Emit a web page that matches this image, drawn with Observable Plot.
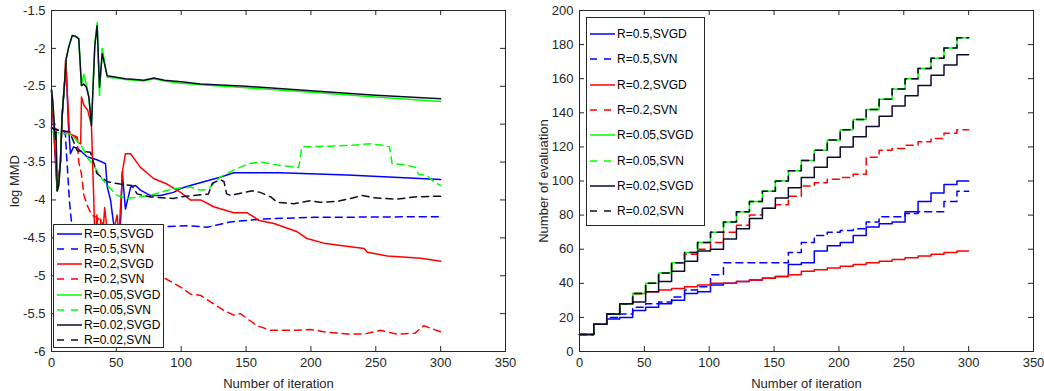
<!DOCTYPE html>
<html><head><meta charset="utf-8">
<script src="https://cdn.jsdelivr.net/npm/d3@7"></script>
<script src="https://cdn.jsdelivr.net/npm/@observablehq/plot@0.6"></script>
<style>
body{margin:0;background:#fff;font-family:"Liberation Sans",Arial,sans-serif;}
#wrap{position:relative;width:1044px;height:391px;overflow:hidden;background:#fff;}
.panel{position:absolute;top:0;}
.legend{position:absolute;background:#fff;border:1px solid #262626;box-sizing:border-box;font-size:12px;color:#000;}
.legend .row{position:absolute;left:0;height:14px;line-height:14px;white-space:nowrap;}
.legend .row svg{position:absolute;top:0;}
.legend .row span{position:absolute;top:0;}
</style></head>
<body><div id="wrap"></div>
<script>
// ---------- shared ----------
const seriesLabels = ["R=0.5,SVGD","R=0.5,SVN","R=0.2,SVGD","R=0.2,SVN","R=0.05,SVGD","R=0.05,SVN","R=0.02,SVGD","R=0.02,SVN"];
const iterTicks = [0,50,100,150,200,250,300,350];
const mmdTicks = [-6,-5.5,-5,-4.5,-4,-3.5,-3,-2.5,-2,-1.5];
const evalTicks = [0,20,40,60,80,100,120,140,160,180,200];

// ---------- left panel: log MMD, [iteration, value] ----------
const mmdR05SVGD = [[0,-2.55],[4.4,-3.88],[6.9,-3.5],[8.2,-2.89],[10.3,-2.4],[11.3,-2.2],[13,-3.0],[14.6,-3.39],[17,-3.3],[19.8,-3.32],[23,-3.36],[27.4,-3.43],[35,-3.47],[41.6,-3.52],[43,-3.83],[45.5,-4.0],[47.5,-4.27],[50,-4.5],[52,-4.6],[53.5,-4.2],[54.5,-3.63],[57,-4.12],[61,-3.83],[64.8,-3.81],[68.6,-3.87],[76,-3.94],[84,-3.94],[94,-3.9],[99.5,-3.85],[107,-3.81],[130,-3.7],[140.5,-3.64],[176,-3.64],[228,-3.67],[300,-3.73]];
const mmdR05SVN = [[0,-3.05],[10,-3.1],[10.8,-3.15],[11.6,-3.4],[13.9,-4.03],[15.4,-4.29],[18,-4.5],[30,-4.55],[50,-4.5],[65,-4.4],[79,-4.36],[104.5,-4.34],[120,-4.36],[138,-4.29],[163.7,-4.25],[202,-4.23],[300,-4.22]];
const mmdR02SVGD = [[0,-2.55],[4.4,-3.88],[6.9,-3.5],[8.2,-2.89],[10.3,-2.4],[10.8,-2.16],[13.9,-3.13],[17,-3.15],[19.8,-3.17],[20.5,-3.24],[22.5,-3.26],[23.1,-2.64],[25,-2.75],[28,-2.82],[30.8,-3.02],[31.5,-3.4],[32.6,-4.0],[33.5,-4.6],[35,-4.2],[36.5,-4.6],[38,-4.25],[39,-4.6],[41,-4.1],[44,-4.6],[48,-4.4],[50.6,-4.2],[52,-4.5],[53,-4.15],[55,-3.59],[57,-3.39],[61,-3.39],[68.6,-3.57],[79,-3.72],[89,-3.79],[99.5,-3.9],[107,-4.0],[115,-4.0],[125,-4.09],[140.5,-4.17],[151,-4.17],[160,-4.27],[171.5,-4.31],[189.5,-4.42],[197,-4.51],[210,-4.57],[223,-4.6],[241,-4.64],[243.5,-4.69],[259,-4.74],[285,-4.77],[300,-4.81]];
const mmdR02SVN = [[0,-3.05],[11.6,-3.1],[17,-3.15],[19.8,-3.2],[21,-3.5],[23,-3.65],[25,-3.94],[27.5,-4.07],[31,-4.2],[35,-4.23],[45,-4.4],[60,-4.65],[75,-4.85],[88,-5.04],[99.5,-5.15],[107,-5.24],[115,-5.26],[133,-5.46],[140.5,-5.52],[145.7,-5.5],[151,-5.57],[158.6,-5.66],[169,-5.72],[189.5,-5.72],[199.7,-5.71],[210,-5.74],[228,-5.77],[241,-5.77],[253.6,-5.72],[266,-5.77],[280,-5.76],[287,-5.66],[300,-5.74]];
const mmdR005SVGD = [[0,-2.55],[1,-2.7],[2.5,-3.1],[3,-3.2],[3.5,-3.1],[4.4,-3.88],[5.6,-3.81],[6.9,-3.5],[8.2,-2.89],[10.3,-2.4],[11.3,-2.14],[13.3,-1.98],[16,-1.83],[18.5,-1.84],[21,-1.87],[23.1,-2.49],[24.9,-2.34],[26.8,-2.47],[28.8,-2.64],[30.8,-3.0],[33.4,-1.94],[35.2,-1.66],[37,-2.62],[39.1,-2.0],[42.9,-2.38],[50,-2.39],[57,-2.41],[65,-2.42],[71,-2.43],[79,-2.4],[87,-2.43],[100,-2.46],[115,-2.48],[150,-2.52],[200,-2.58],[250,-2.64],[300,-2.7]];
const mmdR005SVN = [[0,-3.1],[8,-3.12],[14.6,-3.13],[22.3,-3.26],[28,-3.45],[32.6,-3.55],[39,-3.72],[43,-3.81],[50.6,-3.94],[58.4,-3.98],[76,-3.94],[94,-3.85],[107,-3.83],[115,-3.87],[121,-3.86],[125,-3.78],[130,-3.7],[140,-3.61],[152,-3.52],[161,-3.5],[174,-3.54],[190.6,-3.57],[193,-3.3],[215,-3.29],[230,-3.28],[246,-3.26],[256,-3.28],[260.6,-3.3],[262.6,-3.52],[274,-3.54],[280.6,-3.57],[283,-3.66],[289.6,-3.68],[294.8,-3.76],[300,-3.81]];
const mmdR002SVGD = [[0,-2.55],[1,-2.7],[2.5,-3.1],[3,-3.2],[3.5,-3.1],[4.4,-3.88],[5.6,-3.81],[6.9,-3.5],[8.2,-2.89],[10.3,-2.4],[11.3,-2.14],[13.3,-1.98],[16,-1.83],[18.5,-1.84],[21,-1.87],[23.1,-2.49],[24.9,-2.47],[26.8,-2.51],[28.8,-2.64],[30.8,-3.02],[33.4,-1.96],[35.2,-1.7],[37,-2.51],[39.1,-2.07],[42.9,-2.36],[50,-2.38],[57,-2.4],[65,-2.41],[71,-2.42],[79,-2.39],[87,-2.42],[100,-2.44],[115,-2.47],[150,-2.5],[200,-2.56],[250,-2.62],[300,-2.665]];
const mmdR002SVN = [[0,-3.05],[5,-3.08],[14,-3.1],[19.8,-3.35],[30,-3.37],[35,-3.65],[43,-3.76],[53,-3.79],[62,-3.81],[66,-3.92],[76,-3.96],[94,-3.98],[99.5,-3.96],[121,-3.92],[124,-3.78],[130,-3.73],[133,-3.76],[135,-3.92],[138,-3.94],[154.7,-3.88],[161,-3.9],[169,-3.96],[174,-4.03],[186.6,-4.05],[199.7,-4.01],[207,-4.03],[220,-4.02],[230.5,-3.98],[239.5,-3.94],[248,-3.97],[266.5,-3.99],[280,-3.96],[300,-3.95]];

// ---------- right panel: number of evaluations (step levels) ----------
const stepIters = [0,11,21,31,41,51,61,71,81,91,101,111,121,131,141,151,161,171,181,191,201,211,221,231,241,251,261,271,281,291,300];
const evalR05SVGD = [10,16,19,20,24,26,28,30,34,35,39,40,41,42,43,44,51,52,59,62,64,68,73,75,76,82,88,93,98,100,100];
const evalR05SVN = [10,16,20,22,26,28,29,32,36,38,45,52,52,52,52,52,58,64,68,70,71,72,76,79,79,81,82,82,88,94,94];
const evalR02SVGD = [10,16,22,28,34,35,36,37,38,39,40,40,41,42,43,44,45,47,48,49,50,51,52,53,54,55,56,57,58,59,59];
const evalR02SVN = [10,16,22,28,34,40,46,52,57,60,64,70,74,80,84,86,91,97,99,101,102,104,114,118,119,121,123,125,128,130,130];
const evalR005SVGD = [10,16,22,28,34,40,46,52,58,64,70,76,82,88,94,100,106,112,118,124,130,136,142,148,154,160,166,172,178,184,184];
const evalR005SVN = [10,16,22,28,34,40,46,52,58,64,70,76,82,88,94,100,106,112,118,124,130,136,142,148,154,160,166,172,178,184,184];
const evalR002SVGD = [10,16,22,28,29,35,41,47,53,59,60,66,72,78,84,90,96,102,108,114,120,126,132,138,144,150,156,162,168,174,174];
const evalR002SVN = [10,16,22,28,34,40,46,52,58,64,70,76,82,88,94,100,106,112,118,124,130,136,142,148,154,160,166,172,178,184,184];

// ---------- styles ----------
const seriesColors = ["#0000ff","#0000ff","#ff0000","#ff0000","#00ff00","#00ff00","#0d0d2b","#0d0d2b"];
const seriesDash = [undefined,"7,5",undefined,"7,5",undefined,"7,5",undefined,"7,5"];
const axisColor = "#262626";
const font = "'Liberation Sans', Arial, sans-serif";

const mmdSeries = [mmdR05SVGD,mmdR05SVN,mmdR02SVGD,mmdR02SVN,mmdR005SVGD,mmdR005SVN,mmdR002SVGD,mmdR002SVN];
const evalSeries = [evalR05SVGD,evalR05SVN,evalR02SVGD,evalR02SVN,evalR005SVGD,evalR005SVN,evalR002SVGD,evalR002SVN];

const mmdRows = mmdSeries.flatMap((pts,i)=>pts.map(([it,v])=>({iter:it,value:v,series:seriesLabels[i]})));
const evalRows = evalSeries.flatMap((lv,i)=>stepIters.map((it,j)=>({iter:it,value:lv[j],series:seriesLabels[i]})));

function panel({width,height,mL,mR,mT,mB,yDomain,yTicks,yLabel,yLabelOffset,rows,curve}){
  const innerW = width-mL-mR, innerH = height-mT-mB;
  return Plot.plot({
    width,height,marginLeft:mL,marginRight:mR,marginTop:mT,marginBottom:mB,
    style:{fontFamily:font,fontSize:"13px",color:axisColor,background:"transparent",overflow:"visible"},
    x:{domain:[0,350]},
    y:{domain:yDomain},
    marks:[
      ...seriesLabels.map((s,i)=>Plot.line(rows.filter(d=>d.series===s),{x:"iter",y:"value",stroke:seriesColors[i],strokeWidth:1.5,strokeDasharray:seriesDash[i],curve})),
      Plot.frame({stroke:axisColor,strokeWidth:1}),
      Plot.tickX(iterTicks,{x:d=>d,insetTop:innerH-5,stroke:axisColor}),
      Plot.tickX(iterTicks,{x:d=>d,insetBottom:innerH-5,stroke:axisColor}),
      Plot.tickY(yTicks,{y:d=>d,insetRight:innerW-5,stroke:axisColor}),
      Plot.tickY(yTicks,{y:d=>d,insetLeft:innerW-5,stroke:axisColor}),
      Plot.axisX(iterTicks,{tickSize:0,tickPadding:6,tickFormat:d=>String(d),fill:axisColor,fontSize:13,
        label:"Number of iteration",labelAnchor:"center",labelArrow:"none",labelOffset:36}),
      Plot.axisY(yTicks,{tickSize:0,tickPadding:6,tickFormat:d=>String(d),fill:axisColor,fontSize:13,
        label:yLabel,labelAnchor:"center",labelArrow:"none",labelOffset:yLabelOffset})
    ]
  });
}

const wrap = document.getElementById("wrap");
const left = panel({width:520,height:391,mL:51,mR:15,mT:10,mB:40,yDomain:[-6,-1.5],yTicks:mmdTicks,yLabel:"log MMD",yLabelOffset:42,rows:mmdRows,curve:"linear"});
left.classList.add("panel"); left.style.left="0px";
wrap.appendChild(left);
const right = panel({width:524,height:391,mL:59,mR:11,mT:10,mB:40,yDomain:[0,200],yTicks:evalTicks,yLabel:"Number of evaluation",yLabelOffset:41,rows:evalRows,curve:"step-after"});
right.classList.add("panel"); right.style.left="520px";
wrap.appendChild(right);

function legend({x,y,w,h,firstRow,rowGap}){
  const box=document.createElement("div");
  box.className="legend";
  Object.assign(box.style,{left:x+"px",top:y+"px",width:w+"px",height:h+"px"});
  seriesLabels.forEach((s,i)=>{
    const row=document.createElement("div");
    row.className="row";
    row.style.top=(firstRow+i*rowGap-7)+"px";
    row.style.width=(w-2)+"px";
    const dash=seriesDash[i]?'stroke-dasharray="7,7"':'';
    row.innerHTML=`<svg width="30" height="14" style="left:2px"><line x1="1" x2="26" y1="7" y2="7" stroke="${seriesColors[i]}" stroke-width="1.5" ${dash}/></svg><span style="left:30px">${s}</span>`;
    box.appendChild(row);
  });
  wrap.appendChild(box);
}
legend({x:53,y:224,w:111,h:124,firstRow:9,rowGap:15.14});
legend({x:586,y:17,w:119,h:209,firstRow:16,rowGap:25.3});
</script>
</body></html>
